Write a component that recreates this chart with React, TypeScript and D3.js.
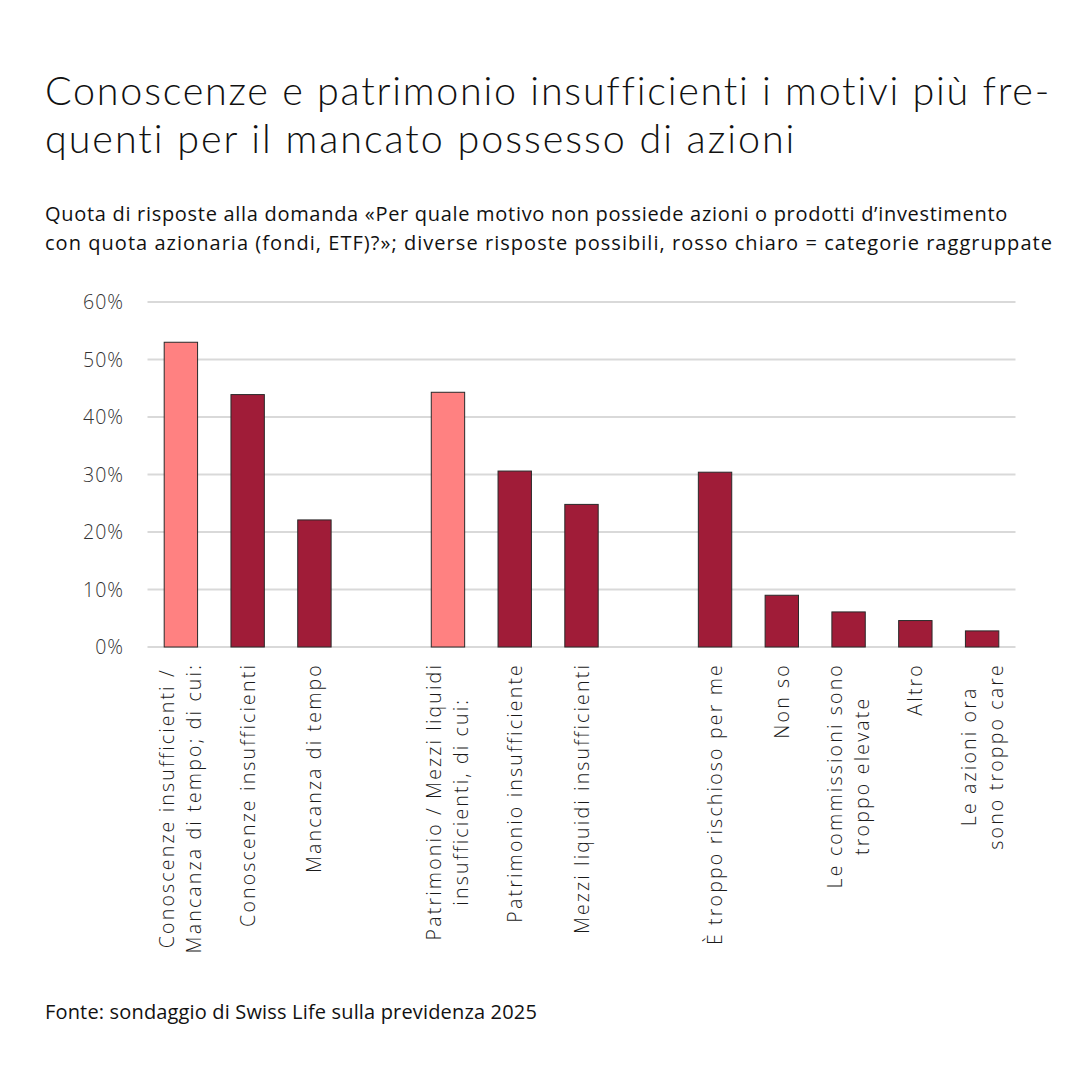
import React, { useEffect, useRef } from "react";
import * as d3 from "d3";

const titleLines = [
  "Conoscenze e patrimonio insufficienti i motivi più fre-",
  "quenti per il mancato possesso di azioni",
];
const subtitleLines = [
  "Quota di risposte alla domanda «Per quale motivo non possiede azioni o prodotti d’investimento",
  "con quota azionaria (fondi, ETF)?»; diverse risposte possibili, rosso chiaro = categorie raggruppate",
];
const sourceText = "Fonte: sondaggio di Swiss Life sulla previdenza 2025";

const categories = [
  "Conoscenze insufficienti /\nMancanza di tempo; di cui:",
  "Conoscenze insufficienti",
  "Mancanza di tempo",
  "Patrimonio / Mezzi liquidi\ninsufficienti, di cui:",
  "Patrimonio insufficiente",
  "Mezzi liquidi insufficienti",
  "È troppo rischioso per me",
  "Non so",
  "Le commissioni sono\ntroppo elevate",
  "Altro",
  "Le azioni ora\nsono troppo care",
];
const values = [53.0, 43.9, 22.1, 44.3, 30.6, 24.8, 30.4, 9.0, 6.1, 4.6, 2.8];
const isGrouped = [true, false, false, true, false, false, false, false, false, false, false];
const groupIds = [0, 0, 0, 1, 1, 1, 2, 2, 2, 2, 2];
const yTicks = [0, 10, 20, 30, 40, 50, 60];

const FONT = "'Open Sans', Lato, sans-serif";
const TITLE_FONT = "Lato, 'Open Sans', sans-serif";
const LIGHT = "#ff8181";
const DARK = "#a01c38";

function fitSpacing(sel: any, target: number) {
  const node = sel.node() as SVGTextContentElement;
  const w = node.getComputedTextLength();
  const n = (sel.text() as string).length;
  const ls = (target - w) / Math.max(1, n);
  sel.attr("letter-spacing", ls);
  return ls;
}

export default function App() {
  const ref = useRef<SVGSVGElement | null>(null);

  useEffect(() => {
    const svg = d3.select(ref.current);
    svg.selectAll("*").remove();

    const domain: string[] = [];
    categories.forEach((c, i) => {
      if (i > 0 && groupIds[i] !== groupIds[i - 1]) domain.push("__gap" + i);
      domain.push("c" + i);
    });

    const x = d3
      .scaleBand<string>()
      .domain(domain)
      .range([147.5, 1015.5])
      .paddingInner(0.5)
      .paddingOuter(0.25);
    const y = d3.scaleLinear().domain([0, 60]).range([647, 302]);

    const titleTargets = [1005, 752];
    titleLines.forEach((t, i) => {
      const s = svg
        .append("text")
        .attr("x", 45)
        .attr("y", 105 + i * 48)
        .attr("font-family", TITLE_FONT)
        .attr("font-size", 39.5)
        .attr("font-weight", 300)
        .attr("fill", "#111")
        .text(t);
      fitSpacing(s, titleTargets[i]);
    });

    const subTargets = [963, 1008];
    const sub = svg
      .append("text")
      .attr("font-family", FONT)
      .attr("font-size", 20)
      .attr("fill", "#111");
    subtitleLines.forEach((t, i) => {
      const s = sub
        .append("tspan")
        .attr("x", 45)
        .attr("y", 221 + i * 29)
        .text(t);
      fitSpacing(s, subTargets[i]);
    });

    const src = svg
      .append("text")
      .attr("x", 45)
      .attr("y", 1019)
      .attr("font-family", FONT)
      .attr("font-size", 20)
      .attr("fill", "#111")
      .text(sourceText);
    fitSpacing(src, 492);

    const grid = svg.append("g");
    let tickLs: number | null = null;
    yTicks.forEach((t) => {
      grid
        .append("line")
        .attr("x1", 147.5)
        .attr("x2", 1015.5)
        .attr("y1", y(t))
        .attr("y2", y(t))
        .attr("stroke", "#d9d9d9")
        .attr("stroke-width", 2);
    });
    [...yTicks].reverse().forEach((t) => {
      const s = grid
        .append("text")
        .attr("x", 124)
        .attr("y", y(t))
        .attr("dy", "0.36em")
        .attr("text-anchor", "end")
        .attr("font-family", FONT)
        .attr("font-size", 19.5)
        .attr("font-weight", 300)
        .attr("fill", "#333")
        .text(`${t}%`);
      if (tickLs === null) tickLs = fitSpacing(s, 41);
      else s.attr("letter-spacing", tickLs);
    });

    const bars = svg.append("g");
    values.forEach((v, i) => {
      const key = "c" + i;
      bars
        .append("rect")
        .attr("x", x(key)!)
        .attr("y", y(v))
        .attr("width", x.bandwidth())
        .attr("height", y(0) - y(v))
        .attr("fill", isGrouped[i] ? LIGHT : DARK)
        .attr("stroke", "#2a2a2a")
        .attr("stroke-width", 1);
    });

    const labels = svg.append("g");
    const lineH = 27;
    let labelLs: number | null = null;
    categories.forEach((c, i) => {
      const key = "c" + i;
      const cx = x(key)! + x.bandwidth() / 2;
      const lines = c.split("\n");
      const g = labels
        .append("g")
        .attr("transform", `translate(${cx},663) rotate(-90)`);
      const texts = lines.map((l, j) =>
        g
          .append("text")
          .attr("y", (j - (lines.length - 1) / 2) * lineH)
          .attr("dy", "0.36em")
          .attr("text-anchor", "middle")
          .attr("font-family", FONT)
          .attr("font-size", 19.5)
          .attr("font-weight", 300)
          .attr("fill", "#1a1a1a")
          .text(l)
      );
      if (labelLs === null) labelLs = fitSpacing(texts[0], 280);
      texts.forEach((t) => t.attr("letter-spacing", labelLs));
      const widths = texts.map((t) => (t.node() as SVGTextElement).getComputedTextLength());
      const maxW = Math.max(...widths);
      texts.forEach((t) => t.attr("x", -maxW / 2));
    });
  }, []);

  return (
    <svg
      ref={ref}
      width={1080}
      height={1080}
      style={{ position: "absolute", left: 0, top: 0, background: "#fff" }}
    />
  );
}
